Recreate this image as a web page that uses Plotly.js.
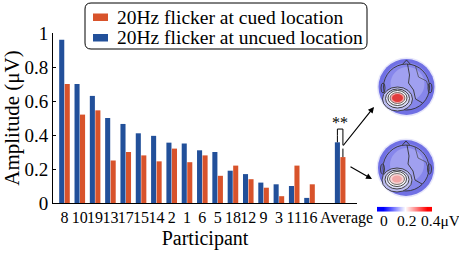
<!DOCTYPE html>
<html>
<head>
<meta charset="utf-8">
<script src="https://cdn.plot.ly/plotly-3.0.1.min.js"></script>
<style>html,body{margin:0;padding:0;background:#fff;}#chart{width:459px;height:255px;}</style>
</head>
<body>
<div id="chart"></div>
<script>
// ---- data ----
const participants = ['8','10','19','13','17','15','14','2','1','6','5','18','12','9','3','11','16'];
const uncued = [0.96,0.70,0.63,0.50,0.465,0.41,0.395,0.355,0.35,0.31,0.30,0.19,0.17,0.12,0.11,0.10,0.03];
const cued   = [0.70,0.52,0.545,0.25,0.30,0.28,0.245,0.32,0.24,0.28,0.16,0.22,0.14,0.09,0.04,0.22,0.11];
const averageLabel = 'Average';
const avgUncued = 0.357, avgCued = 0.27;
const errUncued = 0.04, errCued = 0.05;
const sigLabel = '**';
const seriesNames = ['20Hz flicker at cued location', '20Hz flicker at uncued location'];
const colorbarLevels = [0, 0.1, 0.2, 0.3, 0.4];
const colorbarTickLabels = ['0', '0.2', '0.4\u03BCV'];

// ---- geometry helpers (pixel -> paper) ----
const W = 459, H = 255, ML = 53, MR = 2, MT = 33, MB = 30;
const PW = W - ML - MR, PH = H - MT - MB;
const px = x => (x - ML) / PW;
const py = y => (H - MB - y) / PH;

const avgX = participants.length + 1;
const xs = participants.map((_, i) => i).concat([avgX]);
const tickPos = participants.map((_, i) => i).concat([avgX + 0.42]);
const ticktext = participants.concat([averageLabel]);
const uncuedAll = uncued.concat([avgUncued]);
const cuedAll = cued.concat([avgCued]);
const errU = uncued.map(() => 0).concat([errUncued]);
const errC = cued.map(() => 0).concat([errCued]);

const FONT = 'Liberation Serif';
const BLUE = '#22509a', ORANGE = '#d8532b';

const traces = [
  {type:'bar', name: seriesNames[1], x: xs, y: uncuedAll,
   marker:{color: BLUE, line:{width:0}},
   error_y:{type:'data', symmetric:false, array: errU, arrayminus: errU.map(()=>0), width:0, thickness:1, color:'#000'}},
  {type:'bar', name: seriesNames[0], x: xs, y: cuedAll,
   marker:{color: ORANGE, line:{width:0}},
   error_y:{type:'data', symmetric:false, array: errC, arrayminus: errC.map(()=>0), width:0, thickness:1, color:'#000'}},
  {type:'heatmap', x: colorbarLevels, y:[0], z:[colorbarLevels], xaxis:'x2', yaxis:'y2',
   zsmooth:'best', showscale:false, showlegend:false, hoverinfo:'skip',
   colorscale:[[0,'#0000ff'],[0.5,'#ffffff'],[1,'#ff0000']], zmin:0, zmax:0.4}
];

// ---- shapes ----
const shapes = [];
function roundRect(x0,y0,x1,y1,r){
  const p = (x,y)=>px(x)+','+py(y);
  return 'M'+p(x0+r,y0)+' L'+p(x1-r,y0)+' Q'+p(x1,y0)+' '+p(x1,y0+r)+
         ' L'+p(x1,y1-r)+' Q'+p(x1,y1)+' '+p(x1-r,y1)+
         ' L'+p(x0+r,y1)+' Q'+p(x0,y1)+' '+p(x0,y1-r)+
         ' L'+p(x0,y0+r)+' Q'+p(x0,y0)+' '+p(x0+r,y0)+' Z';
}
// legend box + swatches
shapes.push({type:'path', xref:'paper', yref:'paper', path: roundRect(85,3,367,49,6),
  line:{color:'#000', width:1}, fillcolor:'rgba(0,0,0,0)'});
shapes.push({type:'rect', xref:'paper', yref:'paper', x0:px(93), x1:px(108), y0:py(21), y1:py(13.5),
  fillcolor: ORANGE, line:{width:0}});
shapes.push({type:'rect', xref:'paper', yref:'paper', x0:px(93), x1:px(108), y0:py(41.5), y1:py(34),
  fillcolor: BLUE, line:{width:0}});

function ell(cx,cy,rx,ry,fill,lineColor,lw){
  shapes.push({type:'circle', xref:'paper', yref:'paper', layer:'above',
    x0:px(cx-rx), x1:px(cx+rx), y0:py(cy+ry), y1:py(cy-ry),
    fillcolor: fill || 'rgba(0,0,0,0)',
    line:{color: lineColor || 'rgba(0,0,0,0)', width: lineColor ? (lw||1) : 0}});
}
function pathPx(points, color, lw){
  const d = points.map((p,i)=>(i?'L':'M')+px(p[0])+','+py(p[1])).join(' ');
  shapes.push({type:'path', xref:'paper', yref:'paper', layer:'above', path:d,
    line:{color:color, width:lw}, fillcolor:'rgba(0,0,0,0)'});
}
function head(cx, cy, blobStrong){
  ell(cx,cy,29.5,29.5,'#e6e6fb');
  ell(cx,cy,28,28,'#7070e4');
  ell(cx,cy-1,23.5,23.5,'#8686eb');
  ell(cx+1,cy-3,17,17,'#a0a0f0');
  // head outline, nose, ears
  ell(cx,cy,23,23,null,'#333',0.9);
  pathPx([[cx-4,cy-22.6],[cx,cy-27],[cx+4,cy-22.6]],'#333',0.9);
  ell(cx-23.5,cy+1,2,5,null,'#333',0.9);
  ell(cx+23.5,cy+1,2,5,null,'#333',0.9);
  // irregular contour lines
  pathPx([[cx+1,cy-23],[cx+3,cy-12],[cx+2,cy-4],[cx+7,cy+3],[cx+9,cy+12],[cx+16,cy+16]],'#333',0.9);
  pathPx([[cx+9,cy-21],[cx+12,cy-10],[cx+20,cy-6],[cx+23,cy+3]],'#444',0.7);
  pathPx([[cx-22,cy+6],[cx-19,cy+14],[cx-12,cy+21]],'#444',0.7);
  // blob contours
  const bx = cx-9, by = cy+12;
  ell(bx,by,15,12,'#bcbcf1','#333',0.9);
  ell(bx,by-0.5,12,9.5,'#dedef7','#333',0.9);
  ell(bx,by-1,9.5,7.5,'#ffffff','#333',0.9);
  if (blobStrong){
    ell(bx,by-1,7.5,5.5,'#f4a8a8','#444',0.7);
    ell(bx,by-1,5.5,4,'#e23c3c');
  } else {
    ell(bx,by-1,7.5,5.5,'#f8d4d4','#444',0.7);
    ell(bx,by-1,5,3.5,'#f2a6a6');
  }
}
head(406.5, 87, true);
head(406, 168, false);

// significance bracket (data coords)
const bracketTop = 0.435, bracketLeftBottom = avgUncued + errUncued, bracketRightBottom = avgCued + errCued + 0.02;
const off = 0.18;
shapes.push({type:'path', xref:'x', yref:'y',
  path:'M'+(avgX-off)+','+bracketLeftBottom+' L'+(avgX-off)+','+bracketTop+' L'+(avgX+off)+','+bracketTop+' L'+(avgX+off)+','+bracketRightBottom,
  line:{color:'#000', width:1}});

const txt = (x, y, text, size, xanchor) => ({xref:'paper', yref:'paper', x:px(x), y:py(y), text:text,
  showarrow:false, xanchor: xanchor || 'center', yanchor:'middle',
  font:{family:FONT, size:size, color:'#000'}});

const annotations = [
  txt(115, 17.5, seriesNames[0], 19.5, 'left'),
  txt(115, 38, seriesNames[1], 19.5, 'left'),
  {xref:'x', yref:'y', x: avgX, y: bracketTop, text: sigLabel, showarrow:false, xanchor:'center', yanchor:'bottom', yshift:-4,
   font:{family:FONT, size:16, color:'#000'}},
  {xref:'paper', yref:'paper', x: px(374), y: py(107), ax:-32, ay:40, text:'', showarrow:true,
   arrowhead:2, arrowsize:1, arrowwidth:1.2, arrowcolor:'#000'},
  {xref:'paper', yref:'paper', x: px(372), y: py(179), ax:-23, ay:-13, text:'', showarrow:true,
   arrowhead:2, arrowsize:1, arrowwidth:1.2, arrowcolor:'#000'},
  txt(384, 220, colorbarTickLabels[0], 15.5),
  txt(406, 220, colorbarTickLabels[1], 15.5),
  txt(418.5, 220, colorbarTickLabels[2], 15.5, 'left')
];

const layout = {
  width: W, height: H,
  margin:{l:ML, r:MR, t:MT, b:MB, pad:0},
  paper_bgcolor:'#fff', plot_bgcolor:'rgba(0,0,0,0)',
  font:{family:FONT, color:'#000'},
  barmode:'group', bargap:0.28, bargroupgap:0.08,
  showlegend:false,
  xaxis:{domain:[0, px(357)], range:[-0.75, 19.1], showgrid:false, zeroline:false,
    showline:true, linecolor:'#000', linewidth:1, ticks:'', tickangle:0,
    tickmode:'array', tickvals: tickPos, ticktext: ticktext,
    tickfont:{family:FONT, size:16, color:'#000'},
    title:{text:'Participant', font:{family:FONT, size:20, color:'#000'}, standoff:4},
    automargin:false, fixedrange:true},
  yaxis:{domain:[py(203), 1], range:[0, 1], showgrid:false, zeroline:false,
    showline:true, linecolor:'#000', linewidth:1, ticks:'inside', ticklen:3, tickcolor:'#000',
    dtick:0.2, tick0:0, tickfont:{family:FONT, size:19, color:'#000'},
    title:{text:'Amplitude (\u03BCV)', font:{family:FONT, size:21, color:'#000'}, standoff:2},
    automargin:false, fixedrange:true},
  xaxis2:{domain:[px(377), px(432)], range:[-0.05, 0.45], anchor:'y2', visible:false, fixedrange:true},
  yaxis2:{domain:[py(211.7), py(206.7)], range:[-0.5, 0.5], anchor:'x2', visible:false, fixedrange:true},
  shapes: shapes,
  annotations: annotations
};

Plotly.newPlot('chart', traces, layout, {displayModeBar:false, staticPlot:true});
</script>
</body>
</html>
